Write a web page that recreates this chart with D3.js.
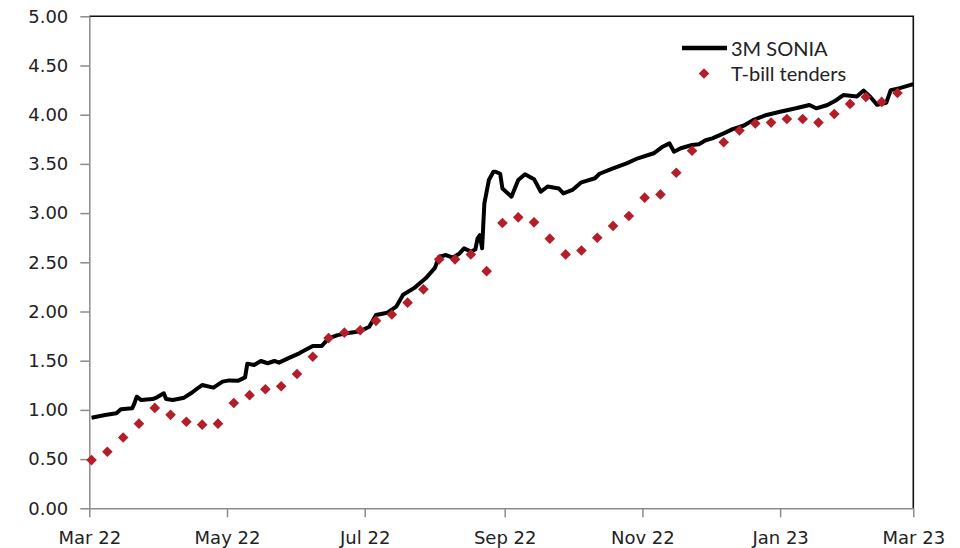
<!DOCTYPE html>
<html>
<head>
<meta charset="utf-8">
<script src="https://cdn.jsdelivr.net/npm/d3@7"></script>
<style>
  body { margin: 0; background: #fff; }
  .axis text { font-family: "DejaVu Sans", Verdana, sans-serif; font-size: 18px; fill: #222; }
  .axis path, .axis line { stroke: #8c8c8c; stroke-width: 1.5; }
  .legend text { font-family: Lato, "Open Sans", sans-serif; font-size: 20px; fill: #222; }
</style>
</head>
<body>
<div id="chart"></div>
<script>
// 3M SONIA
var soniaDates = [
  "2022-03-02","2022-03-08","2022-03-13","2022-03-15","2022-03-20","2022-03-21","2022-03-22","2022-03-24",
  "2022-03-29","2022-03-31","2022-04-03","2022-04-04","2022-04-07","2022-04-12","2022-04-15","2022-04-18",
  "2022-04-20","2022-04-25","2022-04-29","2022-05-02","2022-05-06","2022-05-09","2022-05-10","2022-05-13",
  "2022-05-16","2022-05-19","2022-05-22","2022-05-24","2022-05-28","2022-06-02","2022-06-04","2022-06-08",
  "2022-06-12","2022-06-15","2022-06-19","2022-06-23","2022-06-29","2022-07-03","2022-07-06","2022-07-11",
  "2022-07-15","2022-07-18","2022-07-23","2022-07-28","2022-08-01","2022-08-03","2022-08-06","2022-08-09",
  "2022-08-12","2022-08-14","2022-08-17","2022-08-19","2022-08-20","2022-08-21","2022-08-22","2022-08-23",
  "2022-08-25","2022-08-27","2022-08-28","2022-08-30","2022-08-31","2022-09-04","2022-09-07","2022-09-10",
  "2022-09-14","2022-09-17","2022-09-20","2022-09-25","2022-09-27","2022-10-01","2022-10-05","2022-10-11",
  "2022-10-13","2022-10-19","2022-10-25","2022-10-30","2022-11-06","2022-11-10","2022-11-13","2022-11-15",
  "2022-11-18","2022-11-23","2022-11-26","2022-11-29","2022-12-02","2022-12-07","2022-12-11","2022-12-16",
  "2022-12-20","2022-12-26","2023-01-01","2023-01-08","2023-01-14","2023-01-17","2023-01-22","2023-01-26",
  "2023-01-29","2023-02-04","2023-02-07","2023-02-10","2023-02-13","2023-02-17","2023-02-19","2023-02-23",
  "2023-02-26","2023-03-01"
];
var soniaValues = [
  0.92, 0.948, 0.965, 1.006, 1.016, 1.067, 1.134, 1.10,
  1.11, 1.128, 1.169, 1.11, 1.10, 1.124, 1.169, 1.22,
  1.253, 1.226, 1.287, 1.30, 1.297, 1.33, 1.47, 1.456,
  1.497, 1.474, 1.497, 1.48, 1.524, 1.575, 1.60, 1.65,
  1.65, 1.727, 1.76, 1.778, 1.80, 1.845, 1.964, 1.988,
  2.05, 2.17, 2.24, 2.337, 2.44, 2.557, 2.574, 2.547,
  2.59, 2.642, 2.61, 2.63, 2.744, 2.777, 2.642, 3.10,
  3.336, 3.42, 3.42, 3.40, 3.25, 3.167, 3.336, 3.394,
  3.345, 3.217, 3.27, 3.25, 3.20, 3.235, 3.313, 3.354,
  3.40, 3.455, 3.506, 3.557, 3.608, 3.675, 3.709, 3.624,
  3.659, 3.692, 3.70, 3.74, 3.76, 3.81, 3.853, 3.89,
  3.945, 3.997, 4.03, 4.065, 4.099, 4.065, 4.099, 4.15,
  4.20, 4.185, 4.245, 4.18, 4.10, 4.12, 4.25, 4.27,
  4.29, 4.31
];

// T-bill tender results
var tenderDates = [
  "2022-03-02","2022-03-09","2022-03-16","2022-03-23","2022-03-30","2022-04-06","2022-04-13","2022-04-20",
  "2022-04-27","2022-05-04","2022-05-11","2022-05-18","2022-05-25","2022-06-01","2022-06-08","2022-06-15",
  "2022-06-22","2022-06-29","2022-07-06","2022-07-13","2022-07-20","2022-07-27","2022-08-03","2022-08-10",
  "2022-08-17","2022-08-24","2022-08-31","2022-09-07","2022-09-14","2022-09-21","2022-09-28","2022-10-05",
  "2022-10-12","2022-10-19","2022-10-26","2022-11-02","2022-11-09","2022-11-16","2022-11-23","2022-12-07",
  "2022-12-14","2022-12-21","2022-12-28","2023-01-04","2023-01-11","2023-01-18","2023-01-25","2023-02-01",
  "2023-02-08","2023-02-15","2023-02-22"
];
var tenderValues = [
  0.49, 0.575, 0.72, 0.86, 1.02, 0.95, 0.88, 0.85,
  0.86, 1.07, 1.15, 1.21, 1.24, 1.365, 1.54, 1.73,
  1.785, 1.81, 1.905, 1.97, 2.09, 2.225, 2.53, 2.53,
  2.58, 2.41, 2.90, 2.957, 2.906, 2.74, 2.58, 2.62,
  2.75, 2.87, 2.97, 3.157, 3.19, 3.41, 3.634, 3.72,
  3.84, 3.91, 3.92, 3.956, 3.956, 3.92, 4.007, 4.11,
  4.18, 4.13, 4.22
];

var xTicks = ["2022-03-01","2022-05-01","2022-07-01","2022-09-01","2022-11-01","2023-01-01","2023-03-01"];
var yTicks = [0, 0.5, 1, 1.5, 2, 2.5, 3, 3.5, 4, 4.5, 5];
var seriesNames = ["3M SONIA", "T-bill tenders"];

var width = 960, height = 548;
var plotLeft = 89.3, plotRight = 913.3, plotTop = 16.3, plotBottom = 508.3;
var parse = d3.utcParse("%Y-%m-%d");

var sonia = soniaDates.map(function(d, i) { return { date: parse(d), value: soniaValues[i] }; });
var tenders = tenderDates.map(function(d, i) { return { date: parse(d), value: tenderValues[i] }; });

var svg = d3.select("#chart")
    .append("svg")
    .attr("width", width)
    .attr("height", height);

var x = d3.scaleUtc()
    .domain([parse(xTicks[0]), parse(xTicks[xTicks.length - 1])])
    .range([plotLeft, plotRight]);

var y = d3.scaleLinear()
    .domain([0, 5])
    .range([plotBottom, plotTop]);

// top and right frame
svg.append("path")
    .attr("d", "M" + plotLeft + "," + plotTop + "H" + plotRight + "V" + plotBottom)
    .attr("fill", "none")
    .attr("stroke", "#111")
    .attr("stroke-width", 1.6);

// axes
svg.append("g")
    .attr("class", "axis")
    .attr("transform", "translate(" + plotLeft + ",0)")
    .call(d3.axisLeft(y).tickValues(yTicks).tickFormat(d3.format(".2f")).tickSize(9).tickSizeOuter(0).tickPadding(12));

svg.append("g")
    .attr("class", "axis")
    .attr("transform", "translate(0," + plotBottom + ")")
    .call(d3.axisBottom(x).tickValues(xTicks.map(parse)).tickFormat(d3.utcFormat("%b %y")).tickSize(9).tickSizeOuter(0).tickPadding(14));

// 3M SONIA line
var line = d3.line()
    .x(function(d) { return x(d.date); })
    .y(function(d) { return y(d.value); });

svg.append("path")
    .datum(sonia)
    .attr("d", line)
    .attr("fill", "none")
    .attr("stroke", "#000")
    .attr("stroke-width", 4)
    .attr("stroke-linejoin", "round");

// T-bill tender diamonds
var diamond = d3.symbol().type(d3.symbolDiamond2).size(72);

svg.append("g")
    .selectAll("path")
    .data(tenders)
    .join("path")
    .attr("transform", function(d) { return "translate(" + x(d.date) + "," + y(d.value) + ")"; })
    .attr("d", diamond)
    .attr("fill", "#B41E28");

// legend
var legend = svg.append("g").attr("class", "legend");

legend.append("line")
    .attr("x1", 682).attr("x2", 727)
    .attr("y1", 48).attr("y2", 48)
    .attr("stroke", "#000")
    .attr("stroke-width", 4.5);

legend.append("text")
    .attr("x", 731)
    .attr("y", 55.5)
    .text(seriesNames[0]);

legend.append("path")
    .attr("transform", "translate(704,73.5)")
    .attr("d", diamond)
    .attr("fill", "#B41E28");

legend.append("text")
    .attr("x", 731)
    .attr("y", 80.5)
    .text(seriesNames[1]);
</script>
</body>
</html>
